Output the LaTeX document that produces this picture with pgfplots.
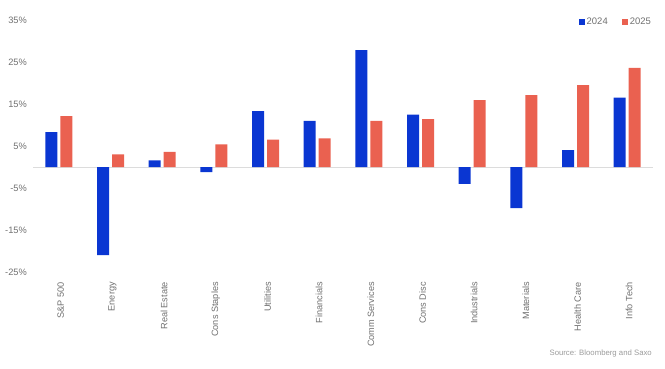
\documentclass[border=0pt]{standalone}
\usepackage{pgfplots}
\pgfplotsset{compat=1.18}
\usepackage{fontspec}
\setmainfont{Liberation Sans}
\definecolor{b24}{HTML}{0A36D2}
\definecolor{r25}{HTML}{EA6150}
\definecolor{lbl}{HTML}{707070}
\definecolor{zl}{HTML}{DCDCDC}
\begin{document}
\begin{tikzpicture}
\useasboundingbox (0,-369bp) rectangle (665bp,0);
\begin{axis}[
  at={(33bp,-272bp)}, anchor=south west,
  scale only axis, width=620bp, height=252bp,
  xmin=-0.5, xmax=11.5, ymin=-25, ymax=35,
  ybar=3bp, bar width=12bp,
  axis line style={draw=none},
  major tick length=0pt,
  xtick=data,
  xticklabels={S\&P 500,Energy,Real Estate,Cons Staples,Utilities,Financials,Comm Services,Cons Disc,Industrials,Materials,Health Care,Info Tech},
  xticklabel style={rotate=90, anchor=east, font=\fontsize{9.2}{10}\selectfont, text=lbl, inner sep=0pt, xshift=-10bp, yshift=-2bp},
  ytick={-25,-15,-5,5,15,25,35},
  yticklabel={\pgfmathprintnumber{\tick}\%},
  yticklabel style={font=\fontsize{9.3}{10}\selectfont, text=lbl, inner sep=0pt, xshift=-6bp},
  /pgf/number format/assume math mode=true,
  extra y ticks={0},
  extra y tick labels={},
  extra y tick style={grid=major, grid style={zl, line width=0.8bp}},
  legend style={draw=none, fill=none, at={(1,1)}, anchor=east, yshift=-2bp,
    font=\fontsize{9.5}{10}\selectfont, text=lbl, legend columns=2,
    /tikz/every even column/.append style={column sep=12bp}, inner sep=0pt},
  legend image code/.code={\fill[#1] (0bp,-3bp) rectangle (6bp,3bp);},
]
\addplot[fill=b24, draw=none] coordinates {(0,8.3) (1,-21.0) (2,1.6) (3,-1.2) (4,13.3) (5,11.0) (6,27.8) (7,12.5) (8,-4.0) (9,-9.8) (10,4.0) (11,16.5)};
\addplot[fill=r25, draw=none] coordinates {(0,12.1) (1,3.0) (2,3.6) (3,5.4) (4,6.5) (5,6.8) (6,11.0) (7,11.4) (8,15.9) (9,17.1) (10,19.5) (11,23.6)};
\legend{2024,2025}
\end{axis}
\node[anchor=east, inner sep=0pt, font=\fontsize{7.8}{8}\selectfont, text=lbl!70] at (652bp,-353bp) {Source: Bloomberg and Saxo};
\end{tikzpicture}
\end{document}
